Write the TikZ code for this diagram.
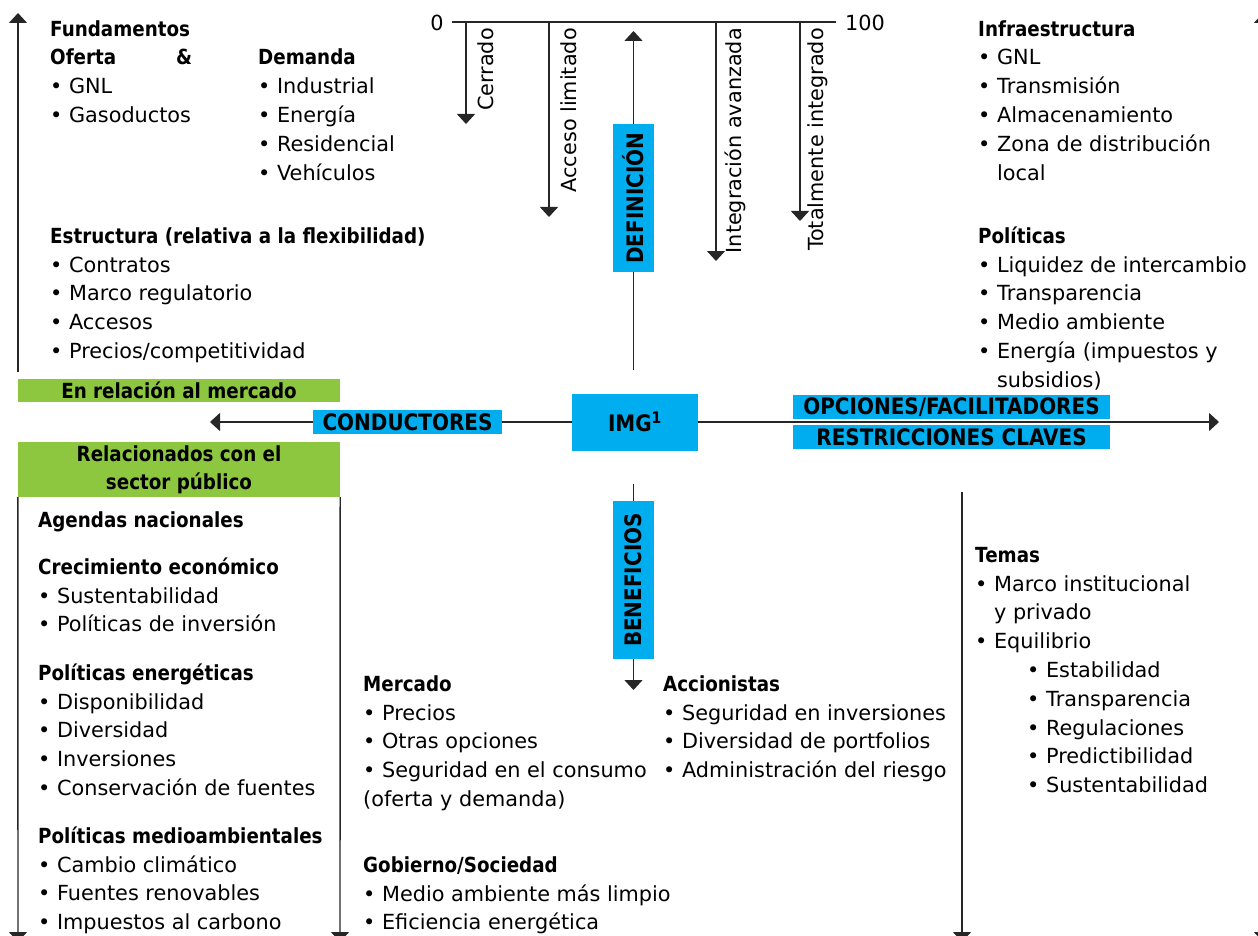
\documentclass[tikz,border=0pt]{standalone}
\usepackage{fontspec}
\setmainfont{DejaVu Sans}[BoldFeatures={FakeStretch=0.88}]
\usetikzlibrary{arrows.meta}

\definecolor{imgblue}{RGB}{0,174,239}
\definecolor{imggreen}{RGB}{141,198,63}

\tikzset{
  txt/.style={anchor=north west, inner sep=0pt, align=left, font=\fontsize{20.8}{28.8}\selectfont},
  vlabel/.style={rotate=90, anchor=east, inner sep=0pt, font=\fontsize{20.8}{24}\selectfont},
  ln/.style={line width=1.4pt, draw=black!85},
  arr/.style={ln, -{Triangle[width=18pt,length=10pt]}},
  bluebox/.style={fill=imgblue, inner sep=0pt, font=\fontsize{22.7}{26}\selectfont\bfseries},
  greenbox/.style={fill=imggreen, inner sep=0pt, align=center, font=\fontsize{20.8}{28}\selectfont\bfseries},
}
\newcommand{\lnstrut}{\rule{0pt}{20pt}}

\begin{document}
\begin{tikzpicture}[x=1pt,y=1pt,yscale=-1,xscale=1]
\useasboundingbox (0,0) rectangle (1258,936);
\clip (0,0) rectangle (1258,936);

%Shape: Rectangle [centre boxes]
\draw (635,422) node (img) [bluebox, minimum width=126pt, minimum height=57pt] {IMG\textsuperscript{1}};
\draw (407.5,422) node (cond) [bluebox, minimum width=189pt, minimum height=24pt] {CONDUCTORES};
\draw (951.5,407) node (opc) [bluebox, minimum width=317pt, minimum height=24pt] {OPCIONES/FACILITADORES};
\draw (951.5,437) node (res) [bluebox, minimum width=317pt, minimum height=24pt] {RESTRICCIONES CLAVES};
\draw (633.5,198) node (def) [bluebox, rotate=90, minimum width=148pt, minimum height=41pt] {DEFINICIÓN};
\draw (633.5,580) node (ben) [bluebox, rotate=90, minimum width=158pt, minimum height=41pt] {BENEFICIOS};
\draw (179,390.5) node (mkt) [greenbox, minimum width=322pt, minimum height=23pt] {En relación al mercado};
\draw (179,469.5) node (pub) [greenbox, minimum width=322pt, minimum height=55pt] {Relacionados con el\\sector público};

%Straight Lines [horizontal axis]
\coordinate (tipL) at (210,422);
\coordinate (tipR) at (1219,422);
\draw [ln] (img.west) -- (cond.east);
\draw [arr] (cond.west) -- (tipL);
\draw [arr] (img.east) -- (tipR);

%Straight Lines [vertical axis]
\coordinate (defgap) at (633.5,370);
\coordinate (deftip) at (633.5,31);
\coordinate (bengap) at (633.5,484);
\coordinate (bentip) at (633.5,690);
\draw [ln] (defgap) -- (def.west);
\draw [arr] (def.east) -- (deftip);
\draw [ln] (bengap) -- (ben.east);
\draw [arr] (ben.west) -- (bentip);

%Straight Lines [side arrows]
\coordinate (ltop) at (18,372);
\coordinate (ltip) at (18,13);
\coordinate (lbot) at (18,942);
\coordinate (mbot) at (340,942);
\coordinate (rtop) at (962,492);
\coordinate (rbot) at (962,942);
\coordinate (etop) at (1263,372);
\coordinate (etip) at (1263,13);
\coordinate (ebeg) at (1263,492);
\coordinate (ebot) at (1263,942);
\draw [arr] (ltop) -- (ltip);
\draw [arr] (pub.south west) -- (lbot);
\draw [arr] (pub.south east) -- (mbot);
\draw [arr] (rtop) -- (rbot);
\draw [arr] (etop) -- (etip);
\draw [arr] (ebeg) -- (ebot);

%Straight Lines [scale 0-100]
\draw (437,23) node (s0) [inner sep=0pt, font=\fontsize{20.8}{24}\selectfont] {0};
\draw (865,23) node (s100) [inner sep=0pt, font=\fontsize{20.8}{24}\selectfont] {100};
\coordinate (sa) at (452,22);
\coordinate (sb) at (836,22);
\draw [ln] (sa) -- (sb);
\coordinate (c1) at (466,22);
\coordinate (c1t) at (466,124);
\coordinate (c2) at (549,22);
\coordinate (c2t) at (549,217);
\coordinate (c3) at (716,22);
\coordinate (c3t) at (716,261);
\coordinate (c4) at (800,22);
\coordinate (c4t) at (800,221);
\draw [arr] (c1) -- (c1t);
\draw [arr] (c2) -- (c2t);
\draw [arr] (c3) -- (c3t);
\draw [arr] (c4) -- (c4t);

% Text Node
\draw (486,28) node (lc1) [vlabel] {Cerrado};
% Text Node
\draw (569,28) node (lc2) [vlabel] {Acceso limitado};
% Text Node
\draw (735,28) node (lc3) [vlabel] {Integración avanzada};
% Text Node
\draw (818,28) node (lc4) [vlabel] {Totalmente integrado};

% Text Node
\draw (50,16) node (fund) [txt] {\lnstrut\textbf{Fundamentos}\\\makebox[142pt][s]{\textbf{Oferta}\hfill\textbf{\&}}\\• GNL\\• Gasoductos};
% Text Node
\draw (258,44.8) node (dem) [txt] {\lnstrut\textbf{Demanda}\\• Industrial\\• Energía\\• Residencial\\• Vehículos};
% Text Node
\draw (50,223) node (estr) [txt] {\lnstrut\textbf{Estructura (relativa a la flexibilidad)}\\• Contratos\\• Marco regulatorio\\• Accesos\\• Precios/competitividad};
% Text Node
\draw (978,16) node (infra) [txt] {\lnstrut\textbf{Infraestructura}\\• GNL\\• Transmisión\\• Almacenamiento\\• Zona de distribución\\\phantom{• }local};
% Text Node
\draw (978,223) node (polit) [txt] {\lnstrut\textbf{Políticas}\\• Liquidez de intercambio\\• Transparencia\\• Medio ambiente\\• Energía (impuestos y\\\phantom{• }subsidios)};

% Text Node
\draw (38,507) node (agen) [txt] {\lnstrut\textbf{Agendas nacionales}};
% Text Node
\draw (38,554) node (crec) [txt] {\lnstrut\textbf{Crecimiento económico}\\• Sustentabilidad\\• Políticas de inversión};
% Text Node
\draw (38,660) node (pene) [txt] {\lnstrut\textbf{Políticas energéticas}\\• Disponibilidad\\• Diversidad\\• Inversiones\\• Conservación de fuentes};
% Text Node
\draw (38,823) node (pmed) [txt] {\lnstrut\textbf{Políticas medioambientales}\\• Cambio climático\\• Fuentes renovables\\• Impuestos al carbono};

% Text Node
\draw (363,671) node (merc) [txt] {\lnstrut\textbf{Mercado}\\• Precios\\• Otras opciones\\• Seguridad en el consumo\\(oferta y demanda)};
% Text Node
\draw (363,852) node (gob) [txt] {\lnstrut\textbf{Gobierno/Sociedad}\\• Medio ambiente más limpio\\• Eficiencia energética};
% Text Node
\draw (663,671) node (acc) [txt] {\lnstrut\textbf{Accionistas}\\• Seguridad en inversiones\\• Diversidad de portfolios\\• Administración del riesgo};

% Text Node
\draw (975,542) node (temas) [txt] {\lnstrut\textbf{Temas}\\• Marco institucional\\\phantom{• }y privado\\• Equilibrio\\\hspace*{52pt}• Estabilidad\\\hspace*{52pt}• Transparencia\\\hspace*{52pt}• Regulaciones\\\hspace*{52pt}• Predictibilidad\\\hspace*{52pt}• Sustentabilidad};

\end{tikzpicture}
\end{document}
